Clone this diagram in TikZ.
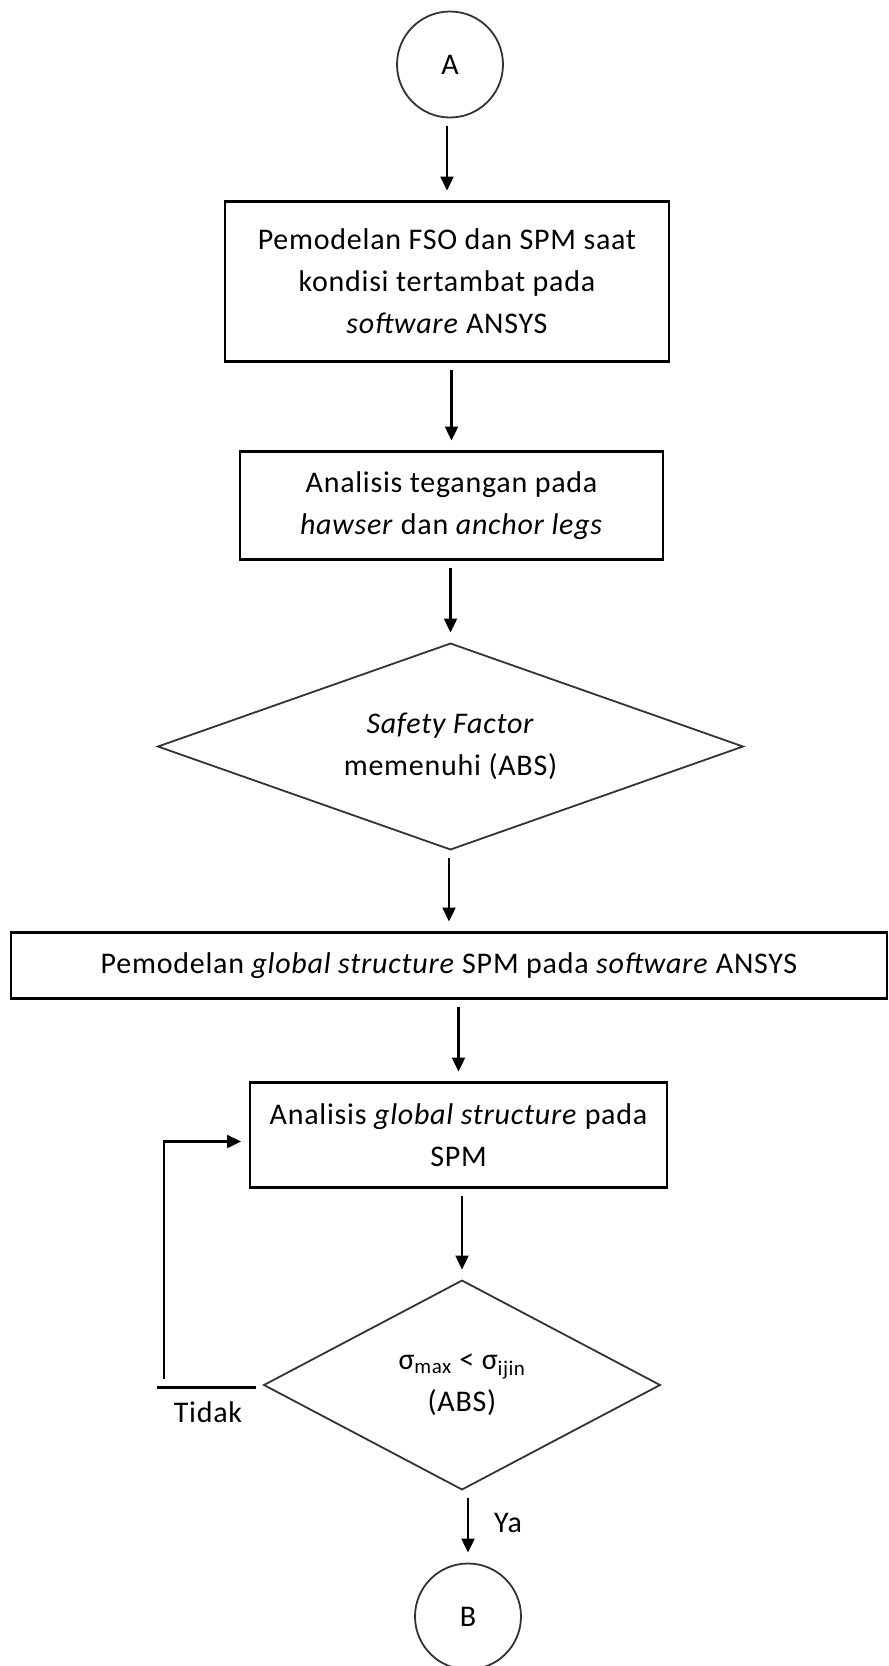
\documentclass[tikz,border=0pt]{standalone}
\usepackage{fontspec}
\setmainfont{Carlito}[LetterSpace=2.5]
\usetikzlibrary{positioning,shapes.geometric,arrows.meta}

\tikzstyle{every node}=[font={\fontsize{30}{42}\selectfont}, align=center, outer sep=0pt]
\tikzstyle{connector}=[circle, draw=black!80, line width=1.8pt, minimum size=106pt, inner sep=0pt]
\tikzstyle{process}=[rectangle, draw=black, line width=2.7pt, inner sep=4pt]
\tikzstyle{decision}=[diamond, draw=black!80, line width=1.8pt, inner sep=0pt]
\tikzstyle{flow}=[line width=2.4pt, -{Triangle[length=14pt, width=13pt]}]
\tikzstyle{gap}=[flow, shorten <=8pt, shorten >=11pt]
\tikzstyle{answer}=[anchor=base, inner sep=0pt]

\begin{document}
\begin{tikzpicture}[x=1pt, y=1pt]
    \useasboundingbox (0,0) rectangle (889,-1666);
    \node [connector] (A) at (450,-64.5) {A};
    \node [process, minimum width=444pt, minimum height=160pt, below=84pt of A, xshift=-3pt] (model)
        {Pemodelan FSO dan SPM saat\\ kondisi tertambat pada\\ \textit{software} ANSYS};
    \node [process, minimum width=423pt, minimum height=108pt, below=90pt of model, xshift=4.5pt] (tension)
        {Analisis tegangan pada\\ \textit{hawser} dan \textit{anchor legs}};
    \node [decision, aspect=2.8, minimum width=585pt, minimum height=206pt, below=84pt of tension, xshift=-1pt] (safety)
        {\textit{Safety Factor}\\ memenuhi (ABS)};
    \node [process, minimum width=876pt, minimum height=66pt, below=83pt of safety, xshift=-1.5pt] (globalmodel)
        {Pemodelan \textit{global structure} SPM pada \textit{software} ANSYS};
    \node [process, minimum width=417pt, minimum height=105pt, below=84pt of globalmodel, xshift=9.5pt] (globalanalysis)
        {Analisis \textit{global structure} pada\\ SPM};
    \node [decision, aspect=1.9, minimum width=396pt, minimum height=209pt, below=93pt of globalanalysis, xshift=3.5pt] (stress)
        {σ\textsubscript{max} < σ\textsubscript{ijin}\\ (ABS)};
    \node [connector, below=74pt of stress, xshift=6pt] (B) {B};

    \foreach \from/\to in {A/model, model/tension, tension/safety, safety/globalmodel,
        globalmodel/globalanalysis, globalanalysis/stress, stress/B}
        \draw [gap] (\from.south -| \to.north) -- (\to.north);

    \draw [line width=2.7pt] (stress.west) ++(-8,-2.5) -- ++(-99,0) coordinate (tidakend);
    \draw [flow, shorten >=9pt] (tidakend) ++(7,9) |- ([yshift=-6.5pt]globalanalysis.west);
    \node [answer] (tidak) at (208,-1422) {Tidak};
    \node [answer] (ya) at (508,-1532) {Ya};
\end{tikzpicture}
\end{document}
